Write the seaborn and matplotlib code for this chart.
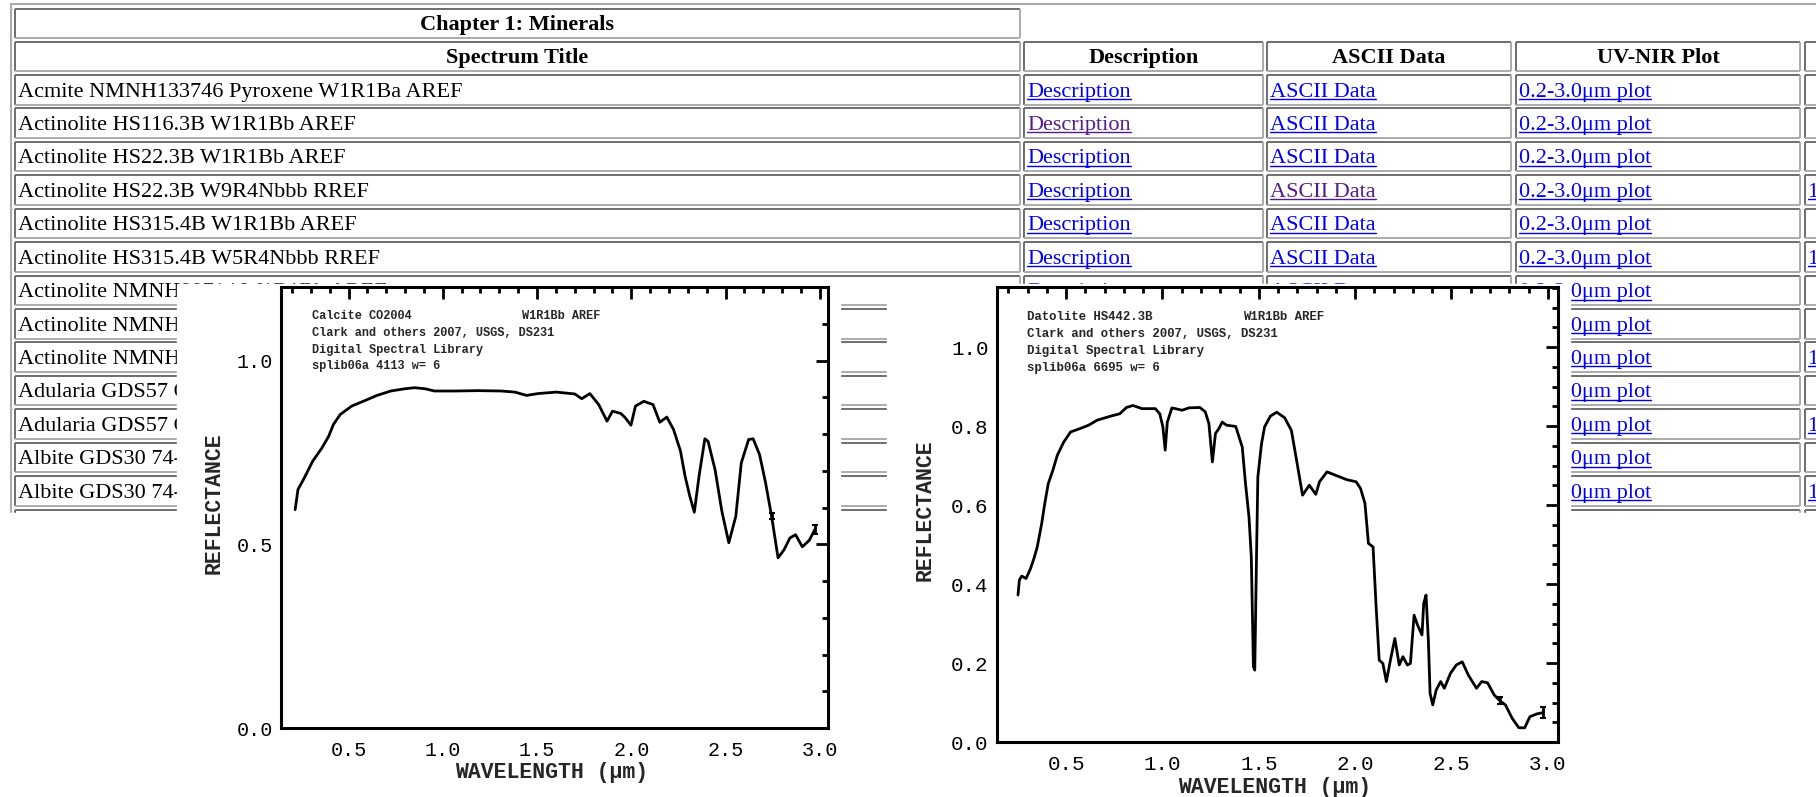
import matplotlib

matplotlib.use("Agg")
import matplotlib.pyplot as plt
from matplotlib.ticker import MultipleLocator
import pandas as pd
import seaborn as sns

W, H = 1816, 797

# spectra (wavelength in um, reflectance)
calcite_wl = [0.217, 0.232, 0.261, 0.310, 0.359, 0.395, 0.420, 0.456, 0.517, 0.578, 0.651, 0.724,
              0.798, 0.851, 0.907, 0.956, 1.066, 1.188, 1.310, 1.383, 1.444, 1.505, 1.602, 1.700,
              1.737, 1.780, 1.827, 1.871, 1.900, 1.944, 1.968, 1.998, 2.022, 2.066, 2.115, 2.151,
              2.188, 2.224, 2.261, 2.285, 2.310, 2.334, 2.359, 2.390, 2.407, 2.444, 2.480, 2.517,
              2.554, 2.583, 2.622, 2.646, 2.680, 2.712, 2.744, 2.778, 2.810, 2.841, 2.871, 2.907,
              2.944, 2.973]
calcite_refl = [0.594, 0.649, 0.676, 0.726, 0.762, 0.794, 0.826, 0.853, 0.876, 0.889, 0.905, 0.917,
                0.923, 0.926, 0.923, 0.917, 0.917, 0.918, 0.917, 0.914, 0.905, 0.910, 0.914, 0.909,
                0.896, 0.910, 0.880, 0.835, 0.862, 0.856, 0.844, 0.824, 0.876, 0.889, 0.880, 0.832,
                0.846, 0.812, 0.753, 0.685, 0.631, 0.587, 0.685, 0.787, 0.780, 0.703, 0.590, 0.504,
                0.576, 0.721, 0.785, 0.787, 0.744, 0.667, 0.576, 0.463, 0.485, 0.517, 0.526, 0.493,
                0.511, 0.540]
calcite_err_wl = [2.744, 2.973]
calcite_err_refl = [0.576, 0.540]
calcite_err = [0.008, 0.012]

datolite_wl = [0.250, 0.257, 0.269, 0.292, 0.315, 0.333, 0.350, 0.373, 0.389, 0.407, 0.431, 0.454,
               0.488, 0.523, 0.569, 0.616, 0.662, 0.731, 0.778, 0.813, 0.847, 0.894, 0.963, 0.986,
               1.002, 1.014, 1.025, 1.049, 1.102, 1.137, 1.194, 1.222, 1.241, 1.259, 1.275, 1.292,
               1.310, 1.333, 1.380, 1.414, 1.431, 1.449, 1.461, 1.472, 1.479, 1.488, 1.495, 1.514,
               1.530, 1.560, 1.593, 1.634, 1.669, 1.699, 1.727, 1.762, 1.796, 1.815, 1.854, 1.900,
               1.958, 2.005, 2.028, 2.051, 2.069, 2.093, 2.109, 2.125, 2.144, 2.162, 2.183, 2.206,
               2.229, 2.248, 2.271, 2.287, 2.306, 2.324, 2.347, 2.356, 2.368, 2.380, 2.389, 2.403,
               2.421, 2.444, 2.463, 2.495, 2.525, 2.556, 2.588, 2.630, 2.657, 2.687, 2.722, 2.750,
               2.780, 2.815, 2.850, 2.880, 2.907, 2.942, 2.972]
datolite_refl = [0.372, 0.410, 0.420, 0.414, 0.439, 0.465, 0.494, 0.553, 0.604, 0.654, 0.688, 0.726,
                 0.760, 0.785, 0.793, 0.802, 0.815, 0.825, 0.831, 0.847, 0.852, 0.844, 0.844, 0.831,
                 0.798, 0.739, 0.810, 0.846, 0.840, 0.846, 0.847, 0.836, 0.806, 0.709, 0.781, 0.793,
                 0.810, 0.802, 0.799, 0.747, 0.654, 0.570, 0.469, 0.191, 0.182, 0.469, 0.671, 0.755,
                 0.798, 0.825, 0.835, 0.821, 0.789, 0.705, 0.625, 0.650, 0.627, 0.659, 0.684, 0.675,
                 0.664, 0.659, 0.642, 0.604, 0.503, 0.494, 0.342, 0.207, 0.199, 0.153, 0.207, 0.262,
                 0.195, 0.216, 0.195, 0.199, 0.321, 0.296, 0.271, 0.351, 0.372, 0.258, 0.123, 0.094,
                 0.132, 0.153, 0.136, 0.174, 0.195, 0.203, 0.169, 0.136, 0.153, 0.150, 0.119, 0.105,
                 0.094, 0.060, 0.036, 0.036, 0.064, 0.071, 0.074]
datolite_err_wl = [2.750, 2.977]
datolite_err_refl = [0.105, 0.074]
datolite_err = [0.010, 0.014]

calcite_note = ["Calcite CO2004", "Clark and others 2007, USGS, DS231",
                "Digital Spectral Library", "splib06a 4113 w= 6"]
datolite_note = ["Datolite HS442.3B", "Clark and others 2007, USGS, DS231",
                 "Digital Spectral Library", "splib06a 6695 w= 6"]
sample_code = "W1R1Bb AREF"

# the web table behind the plots
chapter_title = "Chapter 1: Minerals"
header_labels = ["Spectrum Title", "Description", "ASCII Data", "UV-NIR Plot", ""]
spectrum_titles = [
    "Acmite NMNH133746 Pyroxene W1R1Ba AREF",
    "Actinolite HS116.3B W1R1Bb AREF",
    "Actinolite HS22.3B W1R1Bb AREF",
    "Actinolite HS22.3B W9R4Nbbb RREF",
    "Actinolite HS315.4B W1R1Bb AREF",
    "Actinolite HS315.4B W5R4Nbbb RREF",
    "Actinolite NMNH80714 W1R1Bb AREF",
    "Actinolite NMNHR16485 W1R1Bb AREF",
    "Actinolite NMNHR16485 W9R4Nbbb RREF",
    "Adularia GDS57 Orthoclase W1R1Bb AREF",
    "Adularia GDS57 Orthoclase W5R4Nbbb RREF",
    "Albite GDS30 74-250um fr W1R1Bb AREF",
    "Albite GDS30 74-250um fr W5R4Nbbb RREF",
    "Albite HS66.3B W1R1Bb AREF",
]
link_labels = ["Description", "ASCII Data", "0.2-3.0\u03bcm plot"]
extra_link = "1.0-6.0\u03bcm plot"
visited = {(1, 0), (3, 1)}          # (row, link column)
rref_rows = [3, 5, 8, 10, 12]

sns.set_style("white")
SERIF = "Liberation Serif"
MONO = "Liberation Mono"
LINK = "#0000ee"
VISITED = "#551a8b"
DARK, LIGHT = "#6e6e6e", "#ababab"

fig = plt.figure(figsize=(W / 100, H / 100), dpi=100)
fig.patch.set_facecolor("white")
bg = fig.add_axes([0, 0, 1, 1])
bg.set_xlim(0, W)
bg.set_ylim(H, 0)
bg.axis("off")

col_x = [(15, 1020), (1024, 1263), (1267, 1511), (1516, 1800), (1805, 1840)]
row_pitch = 33.43


def cell(x0, y0, x1, y1):
    kw = dict(lw=1.4, solid_capstyle="butt", zorder=1)
    bg.plot([x0, x1], [y0, y0], color=DARK, **kw)
    bg.plot([x0, x0], [y0, y1], color=DARK, **kw)
    bg.plot([x0, x1], [y1, y1], color=LIGHT, **kw)
    bg.plot([x1, x1], [y0, y1], color=LIGHT, **kw)


underlined = []


def label(x, y, s, color="black", weight="normal", ha="left", link=False):
    t = bg.text(x, y, s, fontsize=16, family=SERIF, color=color, weight=weight,
                ha=ha, va="baseline", zorder=2)
    if link:
        underlined.append((t, x, y, color))


# outer table border
bg.plot([11, W], [4, 4], color=LIGHT, lw=1.5, zorder=1)
bg.plot([11, 11], [4, 520], color=LIGHT, lw=1.5, zorder=1)

# chapter and header rows
cell(15, 9, 1020, 38)
label(517, 30, chapter_title, weight="bold", ha="center")
for (x0, x1), head in zip(col_x, header_labels):
    cell(x0, 42, x1, 71)
    if head:
        label((x0 + x1) / 2, 63, head, weight="bold", ha="center")

for i, title in enumerate(spectrum_titles):
    top = 75 + row_pitch * i
    base = top + 21.5
    for x0, x1 in col_x:
        cell(x0, top, x1, top + 29.5)
    label(18, base, title)
    for j, text in enumerate(link_labels):
        color = VISITED if (i, j) in visited else LINK
        label(col_x[j + 1][0] + 3, base, text, color=color, link=True)
    if i in rref_rows:
        label(col_x[4][0] + 3, base, extra_link, color=LINK, link=True)

fig.canvas.draw()
renderer = fig.canvas.get_renderer()
for t, x, y, color in underlined:
    width = t.get_window_extent(renderer).width
    bg.plot([x, x + width], [y + 2.5, y + 2.5], color=color, lw=1.0, zorder=2)

# screenshot ends below the table, and the two plot images sit on top
for x0, y0, x1, y1 in [(0, 513, W, H), (177, 284, 840, H), (887, 284, 1570, H)]:
    bg.add_patch(plt.Rectangle((x0, y0), x1 - x0, y1 - y0, color="white", zorder=5))


def spectrum(box, wl, refl, err_wl, err_refl, err, ylim, ymajor, yminor, xlim,
             tick_size, xlabel_pos, ylabel_pos):
    x0, y0, x1, y1 = box
    ax = fig.add_axes([x0 / W, 1 - y1 / H, (x1 - x0) / W, (y1 - y0) / H])
    df = pd.DataFrame({"wl": wl, "refl": refl})
    sns.lineplot(data=df, x="wl", y="refl", ax=ax, color="black", lw=2.0,
                 sort=False, estimator=None)
    ax.errorbar(err_wl, err_refl, yerr=err, fmt="none", ecolor="black", elinewidth=2,
                capsize=2, capthick=1.5)
    ax.set_xlim(*xlim)
    ax.set_ylim(*ylim)
    ax.xaxis.set_major_locator(MultipleLocator(0.5))
    ax.xaxis.set_minor_locator(MultipleLocator(0.1))
    ax.yaxis.set_major_locator(MultipleLocator(ymajor))
    ax.yaxis.set_minor_locator(MultipleLocator(yminor))
    ax.xaxis.set_major_formatter(lambda v, p: f"{v:.1f}")
    ax.yaxis.set_major_formatter(lambda v, p: f"{v:.1f}")
    ax.tick_params(which="both", direction="in", top=True, right=True, width=2.0,
                   colors="black")
    ax.tick_params(which="major", length=8.5)
    ax.tick_params(which="minor", length=4)
    ax.tick_params(axis="x", pad=9)
    ax.tick_params(axis="y", pad=6)
    for lab in ax.get_xticklabels() + ax.get_yticklabels():
        lab.set_family(MONO)
        lab.set_fontsize(tick_size)
    for sp in ax.spines.values():
        sp.set_visible(True)
        sp.set_linewidth(2.2)
        sp.set_color("black")
    ax.set_xlabel("WAVELENGTH (\u03bcm)", family=MONO, weight="bold", fontsize=15.5)
    ax.set_ylabel("REFLECTANCE", family=MONO, weight="bold", fontsize=15.5)
    ax.xaxis.set_label_coords(*xlabel_pos)
    ax.yaxis.set_label_coords(*ylabel_pos)
    ax.xaxis.label.set_va("center")
    ax.yaxis.label.set_va("center")
    ax.set_facecolor("white")
    return ax


spectrum((281, 287, 828, 728), calcite_wl, calcite_refl, calcite_err_wl, calcite_err_refl,
         calcite_err, (0, 1.2), 0.5, 0.1, (0.142, 3.043), 14.5,
         (0.495, -0.102), (-0.1225, 0.51))
spectrum((997, 287, 1558, 742), datolite_wl, datolite_refl, datolite_err_wl, datolite_err_refl,
         datolite_err, (0, 1.152), 0.2, 0.05, (0.141, 3.053), 15,
         (0.494, -0.099), (-0.128, 0.51))


def note(x, y, code_x, lines, size):
    for k, s in enumerate(lines):
        fig.text(x / W, 1 - (y + 16.8 * k) / H, s, family=MONO, weight="bold",
                 fontsize=size, va="center", ha="left")
    fig.text(code_x / W, 1 - y / H, sample_code, family=MONO, weight="bold",
             fontsize=size, va="center", ha="left")


note(312, 316, 522, calcite_note, 8.6)
note(1027, 317.3, 1243, datolite_note, 8.9)

fig.savefig("out.png", dpi=100, facecolor="white")
